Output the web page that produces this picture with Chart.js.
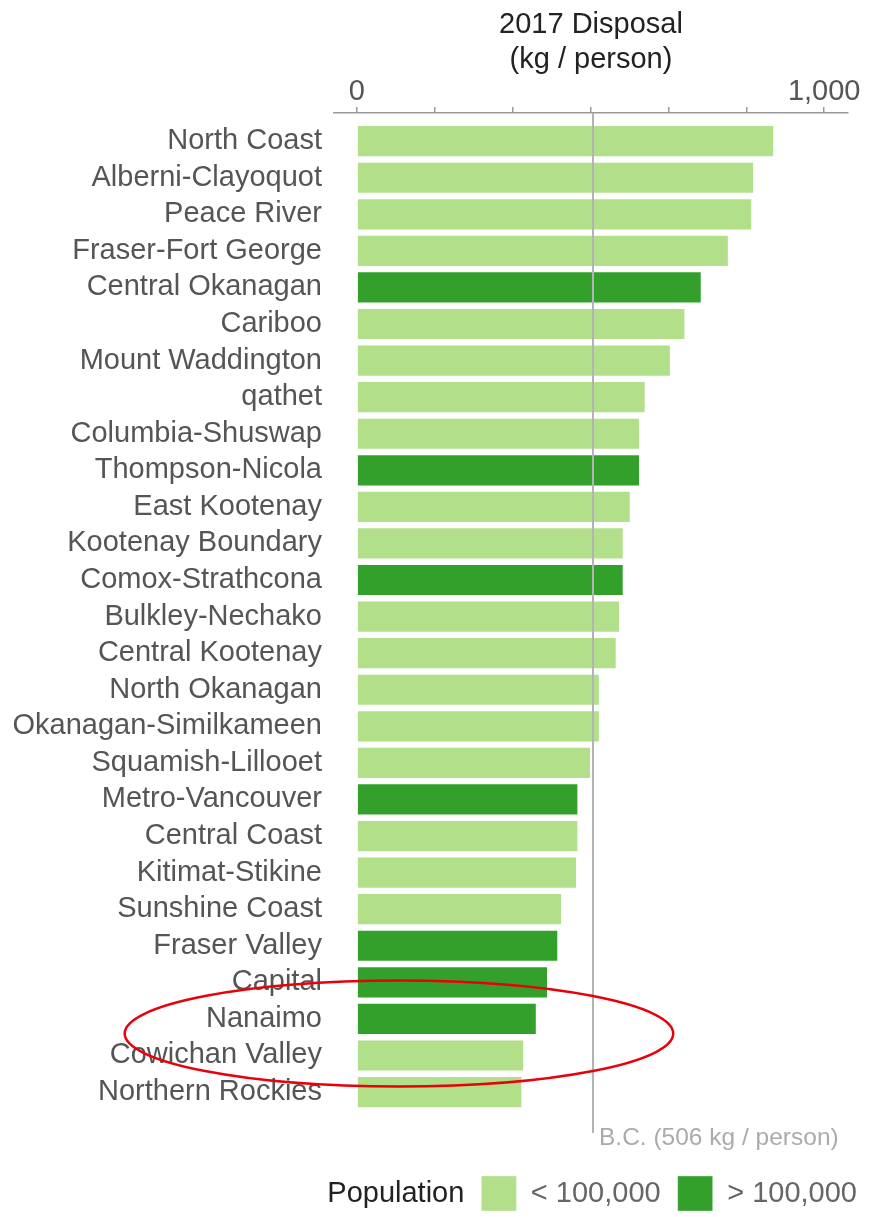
<!DOCTYPE html>
<html>
<head>
<meta charset="utf-8">
<script src="https://cdn.jsdelivr.net/npm/chart.js@4/dist/chart.umd.min.js"></script>
<style>
  html, body { margin: 0; padding: 0; background: #fff; }
  #wrap { width: 874px; height: 1217px; }
</style>
</head>
<body>
<div id="wrap"><canvas id="disposalChart" width="874" height="1217"></canvas></div>
<script>
// 2017 municipal solid waste disposal per person, by regional district

const regions = [
    'North Coast', 'Alberni-Clayoquot', 'Peace River', 'Fraser-Fort George',
    'Central Okanagan', 'Cariboo', 'Mount Waddington', 'qathet',
    'Columbia-Shuswap', 'Thompson-Nicola', 'East Kootenay', 'Kootenay Boundary',
    'Comox-Strathcona', 'Bulkley-Nechako', 'Central Kootenay', 'North Okanagan',
    'Okanagan-Similkameen', 'Squamish-Lillooet', 'Metro-Vancouver', 'Central Coast',
    'Kitimat-Stikine', 'Sunshine Coast', 'Fraser Valley', 'Capital',
    'Nanaimo', 'Cowichan Valley', 'Northern Rockies'
];

const disposalKg = [
    893, 850, 846, 796,
    738, 703, 672, 618,
    606, 606, 586, 571,
    571, 563, 556, 520,
    520, 501, 474, 474,
    471, 439, 431, 409,
    385, 358, 354
];

// true = population over 100,000
const bigPopulation = [
    false, false, false, false,
    true, false, false, false,
    false, true, false, false,
    true, false, false, false,
    false, false, true, false,
    false, false, true, true,
    true, false, false
];

const xTickValues = [0, 166.7, 333.3, 500, 666.7, 833.3, 1000];
const xTickLabels = ['0', '', '', '', '', '', '1,000'];
const bcAverage = 506;
const populationLabels = ['< 100,000', '> 100,000'];

const LIGHT_GREEN = '#b2df8a';
const DARK_GREEN = '#33a02c';
const FONT = '"Liberation Sans", Arial, sans-serif';

// red highlight ring around Nanaimo (value / row units)
const highlight = { region: 'Nanaimo', xValue: 90, rowOffset: 0.4, xRadius: 587, rowRadius: 1.45 };

Chart.defaults.font.family = FONT;

const bcLinePlugin = {
    id: 'bcLine',
    afterDatasetsDraw(chart) {
        const { ctx, chartArea, scales: { x } } = chart;
        const px = Math.round(x.getPixelForValue(bcAverage));
        ctx.save();
        ctx.strokeStyle = '#b3b3b3';
        ctx.lineWidth = 2;
        ctx.beginPath();
        ctx.moveTo(px, chartArea.top);
        ctx.lineTo(px, chartArea.bottom);
        ctx.stroke();
        ctx.fillStyle = '#ababab';
        ctx.font = '24.5px ' + FONT;
        ctx.textAlign = 'left';
        ctx.textBaseline = 'middle';
        ctx.fillText(`B.C. (${bcAverage} kg / person)`, px + 6, chartArea.bottom + 5);
        ctx.restore();
    }
};

const extrasPlugin = {
    id: 'extras',
    afterDraw(chart) {
        const { ctx, scales: { x, y } } = chart;

        // "Population" heading in front of the legend boxes
        const boxes = chart.legend && chart.legend.legendHitBoxes;
        if (boxes && boxes.length) {
            const b = boxes[0];
            ctx.save();
            ctx.fillStyle = '#222';
            ctx.font = '29px ' + FONT;
            ctx.textAlign = 'right';
            ctx.textBaseline = 'middle';
            ctx.fillText('Population', b.left - 17, b.top + b.height / 2);
            ctx.restore();
        }

        // highlight ellipse
        const row = regions.indexOf(highlight.region);
        const cx = x.getPixelForValue(highlight.xValue);
        const cy = y.getPixelForValue(row + highlight.rowOffset);
        const rx = Math.abs(x.getPixelForValue(highlight.xValue + highlight.xRadius) - cx);
        const ry = Math.abs(y.getPixelForValue(row + highlight.rowOffset + highlight.rowRadius) - cy);
        ctx.save();
        ctx.strokeStyle = '#e8000b';
        ctx.lineWidth = 2.5;
        ctx.beginPath();
        ctx.ellipse(cx, cy, rx, ry, 0, 0, Math.PI * 2);
        ctx.stroke();
        ctx.restore();
    }
};

const ctx = document.getElementById('disposalChart').getContext('2d');
const disposalChart = new Chart(ctx, {
    type: 'bar',
    data: {
        datasets: [
            {
                label: 'Disposal',
                data: disposalKg.map((v, i) => ({ x: v, y: i })),
                backgroundColor: bigPopulation.map(big => big ? DARK_GREEN : LIGHT_GREEN),
                borderColor: 'rgba(255, 255, 255, 0.35)',
                borderWidth: 1,
                barPercentage: 0.88,
                categoryPercentage: 1
            }
        ]
    },
    options: {
        indexAxis: 'y',
        responsive: false,
        animation: false,
        devicePixelRatio: 1,
        layout: { padding: 0 },
        plugins: {
            tooltip: { enabled: false },
            legend: {
                position: 'bottom',
                align: 'end',
                maxHeight: 84,
                onClick: null,
                title: {
                    display: true,
                    text: '',
                    padding: { top: 16, bottom: 0 },
                    font: { size: 10, lineHeight: 1 }
                },
                labels: {
                    boxWidth: 35,
                    boxHeight: 35,
                    padding: 17,
                    color: '#222',
                    font: { size: 29 },
                    generateLabels: () => populationLabels.map((text, i) => ({
                        text,
                        fillStyle: i === 0 ? LIGHT_GREEN : DARK_GREEN,
                        strokeStyle: 'rgba(255, 255, 255, 0.35)',
                        lineWidth: 1,
                        hidden: false,
                        datasetIndex: 0
                    }))
                }
            }
        },
        scales: {
            x: {
                type: 'linear',
                position: 'top',
                min: -49,
                max: 1051,
                afterBuildTicks: (scale) => {
                    scale.ticks = xTickValues.map(value => ({ value }));
                },
                afterFit: (scale) => {
                    scale.height = 113;
                    scale.paddingRight = 26;
                },
                title: {
                    display: true,
                    text: ['2017 Disposal', '(kg / person)'],
                    color: '#222',
                    font: { size: 29, lineHeight: 1.2 },
                    padding: { top: 8, bottom: 0 }
                },
                ticks: {
                    color: '#555',
                    font: { size: 29, lineHeight: 1 },
                    padding: 1,
                    maxRotation: 0,
                    autoSkip: false,
                    callback: (value, index) => xTickLabels[index]
                },
                grid: {
                    display: true,
                    drawOnChartArea: false,
                    drawTicks: true,
                    tickLength: 6,
                    color: '#9a9a9a',
                    lineWidth: 1.5
                },
                border: { display: true, color: '#9a9a9a', width: 1.5 }
            },
            y: {
                type: 'linear',
                reverse: true,
                offset: false,
                min: -0.77,
                max: 27.12,
                afterBuildTicks: (scale) => {
                    scale.ticks = regions.map((_, i) => ({ value: i }));
                },
                afterFit: (scale) => {
                    scale.width = 334;
                },
                ticks: {
                    color: '#555',
                    font: { size: 29 },
                    padding: 12,
                    autoSkip: false,
                    callback: (value) => regions[value]
                },
                grid: { display: false, drawTicks: false, offset: false },
                border: { display: false }
            }
        }
    },
    plugins: [bcLinePlugin, extrasPlugin]
});
</script>
</body>
</html>
